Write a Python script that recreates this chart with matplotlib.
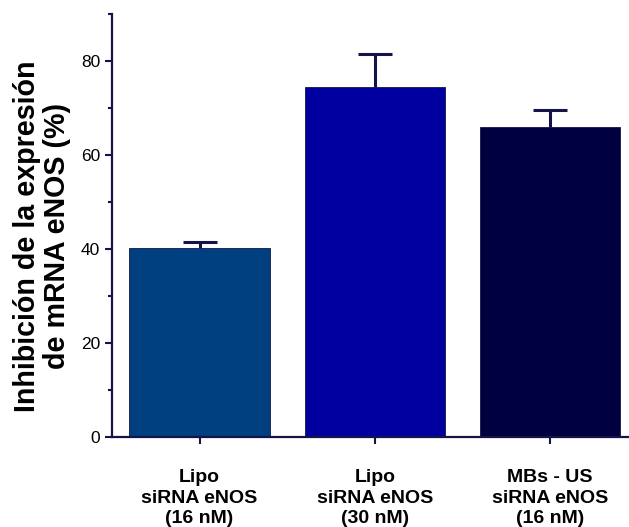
import matplotlib
matplotlib.use("Agg")
from matplotlib import pyplot as plt
from matplotlib.ticker import MultipleLocator

plt.rcParams['font.family'] = ['Liberation Sans', 'DejaVu Sans']

# datos
grupos = ["Lipo\nsiRNA eNOS\n(16 nM)", "Lipo\nsiRNA eNOS\n(30 nM)", "MBs - US\nsiRNA eNOS\n(16 nM)"]
inhibicion = [40.3, 74.6, 66.0]
error_sup = [1.3, 7.0, 3.6]
colores = ["#004080", "#0000a0", "#000040"]
eje_color = "#14144a"

fig = plt.figure(figsize=(6.29, 5.27), dpi=100)
ax = fig.add_axes([0.178, 0.17, 0.822, 0.803])

x = list(range(len(grupos)))
ax.bar(x, inhibicion, width=0.8, color=colores, edgecolor=eje_color, linewidth=0.6, zorder=2)

# barras de error solo hacia arriba, con remate solo en el extremo superior
extremos = [v + e for v, e in zip(inhibicion, error_sup)]
ax.errorbar(x, inhibicion, yerr=[[0] * len(x), error_sup], fmt="none",
            ecolor=eje_color, elinewidth=2.2, capsize=0, zorder=3)
ax.plot(x, extremos, linestyle="none", marker="_", markersize=24,
        markeredgewidth=2.2, color=eje_color, zorder=3)

ax.set_xlim(-0.5, 2.45)
ax.set_ylim(0, 90)
ax.yaxis.set_major_locator(MultipleLocator(20))
ax.yaxis.set_minor_locator(MultipleLocator(10))

ax.set_xticks(x)
ax.set_xticklabels(grupos, fontsize=14, fontweight="bold", linespacing=1.25)
ax.tick_params(axis="y", labelsize=12.5)
ax.tick_params(which="both", direction="out", color=eje_color, width=1.5)
ax.tick_params(which="major", length=5)
ax.tick_params(which="minor", length=3)
ax.tick_params(axis="x", length=5, pad=18)

for s in ["top", "right"]:
    ax.spines[s].set_visible(False)
for s in ["left", "bottom"]:
    ax.spines[s].set_color(eje_color)
    ax.spines[s].set_linewidth(1.6)

ax.set_ylabel("Inhibición de la expresión\nde mRNA eNOS (%)", fontsize=20.6,
              fontweight="bold", linespacing=1.05)
ax.yaxis.set_label_coords(-0.08, 0.475)

fig.savefig("out.png", dpi=100)
